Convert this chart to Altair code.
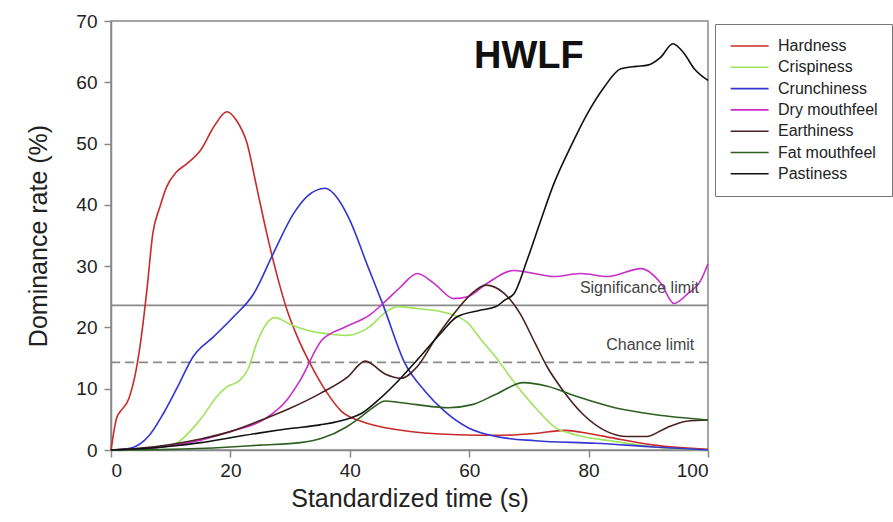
import altair as alt
import pandas as pd

series = ["Hardness", "Crispiness", "Crunchiness", "Dry mouthfeel",
          "Earthiness", "Fat mouthfeel", "Pastiness"]
colors = ["#c92a2a", "#9ee35c", "#3434d4", "#c82ec8", "#4a2222", "#2f5e22", "#111111"]

hard_x = [0, 1, 1.5, 3, 4, 5, 6, 7, 8.2, 9.3, 11, 12.7, 15, 17.2, 19.4, 21, 22.8, 24.4,
          26.1, 28, 29.5, 31.2, 33.3, 36, 38.6, 41.9, 48, 58, 65, 71, 76, 80, 84.4, 91, 100]
hard_y = [0, 5.4, 6.2, 8.4, 12, 17.9, 26, 35.3, 39.7, 42.9, 45.4, 46.7, 48.9, 52.7, 55.2, 53.8,
          50, 42.9, 35.3, 27.8, 22.8, 18.5, 14.2, 9.6, 6.3, 4.7, 3.3, 2.5, 2.4, 2.7, 3.2, 2.7,
          1.9, 0.8, 0.1]

crisp_x = [0, 5, 7, 9, 11, 13, 15, 17.7, 19.4, 21.6, 23, 24.4, 26.1, 27.5, 30, 33, 36, 39.3,
           43.3, 46, 48, 51.2, 56.5, 59.9, 62, 64.5, 67.8, 71.1, 74.5, 77.8, 84.4, 91, 100]
crisp_y = [0, 0.1, 0.3, 0.6, 1.1, 2.8, 5, 8.7, 10.3, 11.4, 13.3, 17.4, 20.7, 21.6, 20.5, 19.5,
           19, 18.7, 20.1, 22.5, 23.4, 23.1, 22.3, 20.6, 18, 15.1, 10.7, 6.9, 3.6, 2.5, 1.4,
           0.5, 0]

crunch_x = [0, 3.2, 6.5, 8.8, 11, 13.8, 17.2, 20.5, 23.9, 27.2, 30.6, 33, 35.9, 38, 40, 43,
            45.6, 49.2, 52.6, 55.9, 59.9, 64.5, 71.1, 81.1, 91, 100]
crunch_y = [0, 0.3, 2.5, 6, 10, 15.3, 18.5, 21.7, 25.5, 32.1, 38.6, 41.5, 42.7, 41, 37.5, 30,
            23.6, 14.2, 9.6, 6.3, 3.6, 2.2, 1.5, 1.1, 0.5, 0]

dry_x = [0, 5, 10, 15, 20, 26, 29.5, 31.7, 35.3, 39.3, 43.3, 45.9, 48.5, 51.3, 54.1, 57.4,
         59.7, 63, 67.5, 70.9, 74.2, 78.7, 83.2, 88.8, 92.1, 94.3, 96.6, 98.8, 100]
dry_y = [0, 0.2, 0.7, 1.6, 3, 5.2, 8.2, 11.4, 17.9, 20.1, 22, 24.2, 26.6, 28.8, 27.2, 24.7,
         25, 27.2, 29.3, 28.8, 28.3, 28.8, 28.3, 29.6, 27.2, 23.9, 25.5, 27.7, 30.4]

earth_x = [0, 5, 10, 15, 20, 25, 30, 35, 39.5, 42.6, 45.9, 48.6, 51.2, 54.5, 57.9, 60.5, 62.8,
           65.8, 68.5, 71.1, 73.1, 75.8, 79.1, 83.1, 86.4, 89.7, 93, 96.4, 100]
earth_y = [0, 0.3, 0.9, 1.8, 3, 4.8, 6.8, 9.2, 11.8, 14.5, 12.4, 11.7, 13.5, 18.4, 22.8, 25.6,
           26.9, 25.6, 22.3, 17.3, 13.5, 9.6, 5.8, 3, 2.2, 2.2, 3.6, 4.7, 4.9]

fat_x = [0, 10, 20, 25, 31.7, 35.3, 39.5, 42, 44, 45.9, 48, 51.2, 56.5, 60.5, 64.5, 69.1,
         73.1, 77.8, 84.4, 91, 100]
fat_y = [0, 0.1, 0.5, 0.8, 1.2, 1.9, 3.8, 5.5, 7, 8, 7.8, 7.4, 6.9, 7.4, 9.1, 11, 10.4, 8.8,
         6.9, 5.8, 4.9]

past_x = [0, 5, 10, 15, 20, 25, 30, 35, 40, 42, 44.6, 48.6, 51.2, 55.2, 57.9, 61.8, 64.5, 66,
          67.5, 69.7, 72, 74.2, 77, 79.8, 82.6, 85.4, 88, 89.9, 92.1, 94.1, 96, 97.7, 100]
past_y = [0, 0.2, 0.6, 1.2, 2, 2.8, 3.5, 4.1, 5.2, 6, 8, 11.8, 14.6, 19, 21.7, 22.8, 23.4,
          24.5, 25.5, 31, 37.5, 43.5, 49.5, 54.9, 59.2, 62.2, 62.6, 62.8, 64.1, 66.3, 64.7,
          62.2, 60.3]

limit_names = ["Significance limit", "Chance limit"]
limit_values = [23.6, 14.3]
limit_dash = [[1, 0], [9, 5]]

label_text = ["Significance limit", "Chance limit"]
label_x = [98.5, 97.7]
label_y = [25.6, 16.3]

title_text = ["HWLF"]
title_x = [70]
title_y = [64.1]

FONT = "Liberation Sans"

xs = [hard_x, crisp_x, crunch_x, dry_x, earth_x, fat_x, past_x]
ys = [hard_y, crisp_y, crunch_y, dry_y, earth_y, fat_y, past_y]
rows = []
for name, sx, sy in zip(series, xs, ys):
    for a, b in zip(sx, sy):
        rows.append({"series": name, "t": a, "rate": b})
df = pd.DataFrame(rows)

xscale = alt.Scale(domain=[0, 100], nice=False)
yscale = alt.Scale(domain=[0, 70], nice=False)

lines = alt.Chart(df).mark_line(strokeWidth=1.6, interpolate="monotone").encode(
    x=alt.X("t:Q", scale=xscale,
            axis=alt.Axis(title="Standardized time (s)", values=[0, 20, 40, 60, 80, 100],
                          titlePadding=6, labelPadding=4)),
    y=alt.Y("rate:Q", scale=yscale,
            axis=alt.Axis(title="Dominance rate (%)", values=[0, 10, 20, 30, 40, 50, 60, 70],
                          titlePadding=24, labelPadding=7)),
    color=alt.Color("series:N", scale=alt.Scale(domain=series, range=colors),
                    legend=alt.Legend(title=None, orient="none", legendX=604, legendY=3,
                                      symbolType="M-1,0H5", symbolSize=160,
                                      symbolStrokeWidth=1.6, labelFontSize=16,
                                      labelFont=FONT, labelColor="#222",
                                      strokeColor="#777", padding=14, labelOffset=33,
                                      rowPadding=5.3)),
    detail="series:N",
)

ldf = pd.DataFrame({"name": limit_names, "v": limit_values})
sig = alt.Chart(ldf[ldf["name"] == "Significance limit"]).mark_rule(
    color="#8a8a8a", strokeWidth=1.6).encode(y=alt.Y("v:Q", scale=yscale))
chance = alt.Chart(ldf[ldf["name"] == "Chance limit"]).mark_rule(
    color="#8a8a8a", strokeWidth=1.6, strokeDash=limit_dash[1]).encode(
    y=alt.Y("v:Q", scale=yscale))

lab = alt.Chart(pd.DataFrame({"txt": label_text, "x": label_x, "y": label_y})).mark_text(
    align="right", baseline="alphabetic", fontSize=16, font=FONT, color="#444").encode(
    x=alt.X("x:Q", scale=xscale), y=alt.Y("y:Q", scale=yscale), text="txt:N")

ttl = alt.Chart(pd.DataFrame({"txt": title_text, "x": title_x, "y": title_y})).mark_text(
    align="center", baseline="middle", fontSize=38, fontWeight="bold", font=FONT,
    color="#111").encode(
    x=alt.X("x:Q", scale=xscale), y=alt.Y("y:Q", scale=yscale), text="txt:N")

chart = alt.layer(sig, chance, lines, lab, ttl).properties(
    width=597, height=429,
    autosize=alt.AutoSizeParams(type="none"),
    padding={"left": 111, "top": 21, "right": 185, "bottom": 72},
    background="white",
).configure_view(stroke="#888", strokeWidth=1.5).configure_axis(
    grid=False, domainColor="#888", domainWidth=1.5, tickColor="#888", tickWidth=1.5,
    tickSize=7, labelFontSize=19, labelFont=FONT, labelColor="#222",
    titleFontSize=25, titleFont=FONT, titleFontWeight="normal", titleColor="#222",
)

chart.save("out.html", embed_options={"renderer": "svg", "actions": False})
